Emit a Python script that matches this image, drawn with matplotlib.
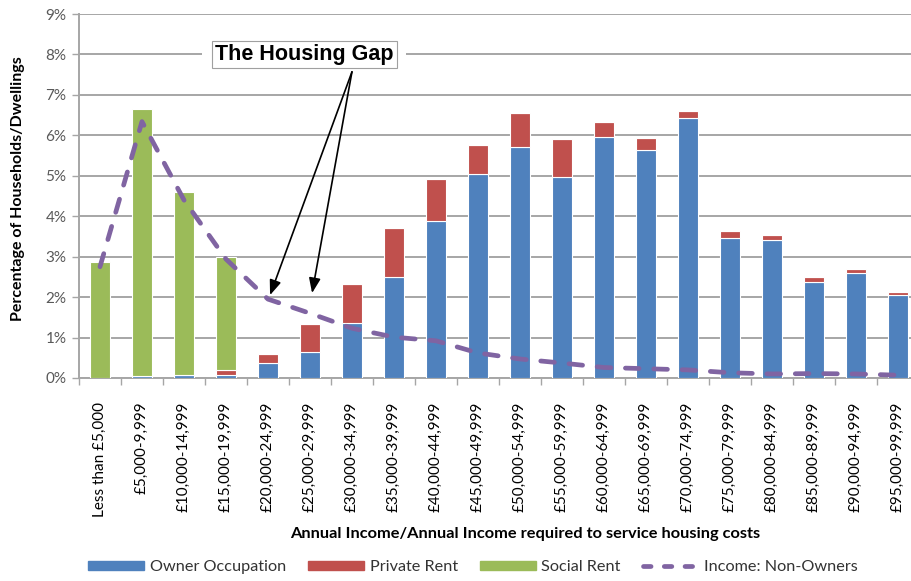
import matplotlib
matplotlib.use("Agg")
import matplotlib.pyplot as plt
import numpy as np
from matplotlib.ticker import FuncFormatter, MultipleLocator, FixedLocator
from matplotlib.lines import Line2D
from matplotlib.patches import Patch

categories = ["Less than £5,000", "£5,000-9,999", "£10,000-14,999", "£15,000-19,999",
              "£20,000-24,999", "£25,000-29,999", "£30,000-34,999", "£35,000-39,999",
              "£40,000-44,999", "£45,000-49,999", "£50,000-54,999", "£55,000-59,999",
              "£60,000-64,999", "£65,000-69,999", "£70,000-74,999", "£75,000-79,999",
              "£80,000-84,999", "£85,000-89,999", "£90,000-94,999", "£95,000-99,999"]
owner = [0.00, 0.05, 0.07, 0.07, 0.38, 0.65, 1.37, 2.50, 3.89, 5.04,
         5.70, 4.96, 5.97, 5.64, 6.42, 3.45, 3.41, 2.37, 2.59, 2.05]
private = [0.00, 0.00, 0.00, 0.12, 0.21, 0.68, 0.95, 1.20, 1.04, 0.71,
           0.85, 0.96, 0.35, 0.30, 0.17, 0.18, 0.13, 0.13, 0.10, 0.07]
social = [2.86, 6.60, 4.54, 2.81, 0.00, 0.00, 0.00, 0.00, 0.00, 0.00,
          0.00, 0.00, 0.00, 0.00, 0.00, 0.00, 0.00, 0.00, 0.00, 0.00]
non_owners = [2.75, 6.34, 4.40, 2.94, 1.95, 1.60, 1.23, 1.01, 0.92, 0.62,
              0.47, 0.37, 0.26, 0.23, 0.20, 0.13, 0.10, 0.11, 0.10, 0.07]

BLUE = "#4F81BD"
RED = "#C0504D"
GREEN = "#9BBB59"
PURPLE = "#8064A2"
GRID = "#A6A6A6"
TXT = "#595959"

plt.rcParams['font.family'] = ['Lato', 'DejaVu Sans']

fig = plt.figure(figsize=(9.12, 5.81), dpi=100)
ax = fig.add_axes([0.0866, 0.3494, 0.921, 0.6265])

x = np.arange(len(categories))
w = 0.47
owner_a = np.array(owner)
private_a = np.array(private)
social_a = np.array(social)
ax.bar(x, owner_a, w, color=BLUE, edgecolor="white", linewidth=0.8, zorder=3)
ax.bar(x, private_a, w, bottom=owner_a, color=RED, edgecolor="white", linewidth=0.8, zorder=3)
ax.bar(x, social_a, w, bottom=owner_a + private_a, color=GREEN, edgecolor="white", linewidth=0.8, zorder=3)
ax.plot(x, non_owners, color=PURPLE, lw=3.4, ls=(0, (2.9, 3.1)), dash_capstyle="round",
        solid_capstyle="round", zorder=4)

ax.set_xlim(-0.5, len(categories) - 0.5)
ax.set_ylim(0, 9)
ax.yaxis.set_major_locator(MultipleLocator(1))
ax.yaxis.set_major_formatter(FuncFormatter(lambda v, p: f"{int(round(v))}%"))
ax.grid(axis="y", color=GRID, lw=1.4, zorder=0)
ax.set_axisbelow(True)

ax.set_xticks(x)
ax.set_xticklabels(categories, rotation=90, fontsize=11, color="black")
ax.tick_params(axis="x", which="major", length=0, pad=17)
ax.xaxis.set_minor_locator(FixedLocator(np.arange(-0.5, len(categories), 1.0)))
ax.tick_params(axis="x", which="minor", length=5, color=GRID, width=1)
ax.tick_params(axis="y", length=5, color=GRID, width=1, labelsize=11, labelcolor=TXT, pad=4)

for s in ["top", "right"]:
    ax.spines[s].set_visible(False)
for s in ["left", "bottom"]:
    ax.spines[s].set_color(GRID)
    ax.spines[s].set_linewidth(1.4)

ax.set_ylabel("Percentage of Households/Dwellings", fontsize=11.5, fontweight="bold")
ax.yaxis.set_label_coords(-0.064, 0.52)
ax.set_xlabel("Annual Income/Annual Income required to service housing costs",
              fontsize=11.8, fontweight="bold")
ax.xaxis.set_label_coords(0.531, -0.41)

# Annotation
ax.text(4.86, 8.0, "The Housing Gap", ha="center", va="center", fontsize=15.5,
        fontweight="bold", family=["Liberation Sans", "DejaVu Sans"], color="white", zorder=5,
        bbox=dict(boxstyle="square,pad=0.6", fc="white", ec="none"))
ax.text(4.86, 8.0, "The Housing Gap", ha="center", va="center", fontsize=15.5,
        fontweight="bold", family=["Liberation Sans", "DejaVu Sans"], color="black", zorder=6,
        bbox=dict(boxstyle="square,pad=0.15", fc="white", ec="#A0A0A0", lw=0.8))
for tx, ty in [(4.05, 2.05), (5.05, 2.10)]:
    ax.annotate("", xy=(tx, ty), xytext=(6.0, 7.57),
                arrowprops=dict(arrowstyle="-|>,head_length=0.9,head_width=0.35",
                                color="black", lw=1.2, shrinkA=0, shrinkB=0), zorder=6)

handles = [Patch(color=BLUE), Patch(color=RED), Patch(color=GREEN),
           Line2D([0], [0], color=PURPLE, lw=3.4, ls=(0, (1.6, 2.8)), dash_capstyle="round")]
labels = ["Owner Occupation", "Private Rent", "Social Rent", "Income: Non-Owners"]
fig.legend(handles, labels, loc="center", bbox_to_anchor=(473 / 912, 1 - 567 / 581), ncol=4,
           frameon=False, fontsize=11.7, handlelength=3.45, handleheight=0.5,
           columnspacing=1.35, handletextpad=0.35, labelcolor="#333333")

fig.savefig("out.png", dpi=100)
